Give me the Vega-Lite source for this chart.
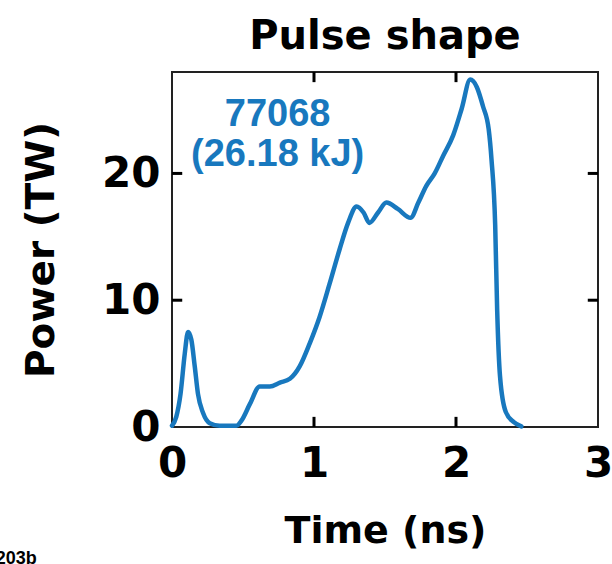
{
  "$schema": "https://vega.github.io/schema/vega-lite/v6.json",
  "width": 426,
  "height": 355,
  "autosize": "none",
  "padding": {"left": 172, "top": 72, "right": 14, "bottom": 137},
  "background": "white",
  "config": {
    "font": "DejaVu Sans",
    "view": {"stroke": "#222", "strokeWidth": 2},
    "axis": {"grid": false, "domain": false, "ticks": false, "labelFlush": false, "labelFont": "DejaVu Sans", "labelFontWeight": "bold", "labelFontSize": 42, "labelColor": "black", "titleFont": "DejaVu Sans", "titleFontWeight": "bold", "titleFontSize": 38, "titleColor": "black"}
  },
  "title": {"text": "Pulse shape", "fontSize": 40, "fontWeight": "bold", "font": "DejaVu Sans", "color": "black", "offset": 14, "anchor": "middle"},
  "datasets": {
    "pulse": [
      {"t": 0.0, "P": 0.1}, {"t": 0.03, "P": 0.8}, {"t": 0.06, "P": 2.6}, {"t": 0.09, "P": 5.8},
      {"t": 0.113, "P": 7.5}, {"t": 0.136, "P": 6.9}, {"t": 0.16, "P": 4.8}, {"t": 0.183, "P": 2.6},
      {"t": 0.219, "P": 1.1}, {"t": 0.266, "P": 0.3}, {"t": 0.336, "P": 0.1}, {"t": 0.454, "P": 0.1},
      {"t": 0.489, "P": 0.5}, {"t": 0.548, "P": 1.8}, {"t": 0.618, "P": 3.2}, {"t": 0.689, "P": 3.2},
      {"t": 0.76, "P": 3.5}, {"t": 0.83, "P": 3.8}, {"t": 0.9, "P": 4.8}, {"t": 0.97, "P": 6.6},
      {"t": 1.04, "P": 8.7}, {"t": 1.11, "P": 11.3}, {"t": 1.18, "P": 14.0}, {"t": 1.24, "P": 16.1},
      {"t": 1.3, "P": 17.4}, {"t": 1.35, "P": 16.9}, {"t": 1.39, "P": 16.1}, {"t": 1.45, "P": 16.9},
      {"t": 1.51, "P": 17.7}, {"t": 1.59, "P": 17.2}, {"t": 1.68, "P": 16.5}, {"t": 1.735, "P": 17.7},
      {"t": 1.79, "P": 19.0}, {"t": 1.85, "P": 20.0}, {"t": 1.91, "P": 21.4}, {"t": 1.98, "P": 23.0},
      {"t": 2.04, "P": 25.1}, {"t": 2.1, "P": 27.4}, {"t": 2.147, "P": 26.8}, {"t": 2.19, "P": 25.3},
      {"t": 2.23, "P": 23.5}, {"t": 2.25, "P": 21.1}, {"t": 2.276, "P": 15.9}, {"t": 2.29, "P": 9.2},
      {"t": 2.31, "P": 4.0}, {"t": 2.35, "P": 1.2}, {"t": 2.405, "P": 0.4}, {"t": 2.46, "P": 0.05}
    ],
    "xticks": [
      {"t": 1, "lo": 0, "hi": 0.8},
      {"t": 2, "lo": 0, "hi": 0.8},
      {"t": 1, "lo": 28, "hi": 27.2},
      {"t": 2, "lo": 28, "hi": 27.2}
    ],
    "yticks": [
      {"P": 10, "lo": 0, "hi": 0.072},
      {"P": 20, "lo": 0, "hi": 0.072},
      {"P": 10, "lo": 3, "hi": 2.928},
      {"P": 20, "lo": 3, "hi": 2.928}
    ],
    "labels": [
      {"t": 0.744, "P": 23.74, "txt": "77068"},
      {"t": 0.744, "P": 20.58, "txt": "(26.18 kJ)"}
    ],
    "tag": [
      {"t": -1.241, "P": -10.8, "txt": "203b"}
    ]
  },
  "layer": [
    {
      "data": {"name": "pulse"},
      "mark": {"type": "line", "color": "#1878be", "strokeWidth": 4.5, "interpolate": "monotone", "strokeCap": "round", "strokeJoin": "round"},
      "encoding": {
        "x": {"field": "t", "type": "quantitative", "scale": {"domain": [0, 3], "nice": false},
          "axis": {"values": [0, 1, 2, 3], "format": "d", "title": "Time (ns)", "labelPadding": 16, "titlePadding": 28}},
        "y": {"field": "P", "type": "quantitative", "scale": {"domain": [0, 28], "nice": false},
          "axis": {"values": [0, 10, 20], "format": "d", "title": "Power (TW)", "titleFontSize": 39, "labelPadding": 12, "titlePadding": 40, "labelBaseline": "middle"}}
      }
    },
    {
      "data": {"name": "xticks"},
      "mark": {"type": "rule", "color": "black", "strokeWidth": 3, "opacity": 1},
      "encoding": {
        "x": {"field": "t", "type": "quantitative"},
        "y": {"field": "lo", "type": "quantitative"},
        "y2": {"field": "hi"}
      }
    },
    {
      "data": {"name": "yticks"},
      "mark": {"type": "rule", "color": "black", "strokeWidth": 3, "opacity": 1},
      "encoding": {
        "y": {"field": "P", "type": "quantitative"},
        "x": {"field": "lo", "type": "quantitative"},
        "x2": {"field": "hi"}
      }
    },
    {
      "data": {"name": "labels"},
      "mark": {"type": "text", "color": "#1878be", "fontSize": 38, "fontWeight": "bold", "font": "Liberation Sans", "align": "center", "baseline": "alphabetic"},
      "encoding": {
        "x": {"field": "t", "type": "quantitative"},
        "y": {"field": "P", "type": "quantitative"},
        "text": {"field": "txt"}
      }
    },
    {
      "data": {"name": "tag"},
      "mark": {"type": "text", "color": "black", "fontSize": 18, "fontWeight": "bold", "font": "Liberation Sans", "align": "left", "baseline": "alphabetic", "clip": false},
      "encoding": {
        "x": {"field": "t", "type": "quantitative"},
        "y": {"field": "P", "type": "quantitative"},
        "text": {"field": "txt"}
      }
    }
  ]
}
